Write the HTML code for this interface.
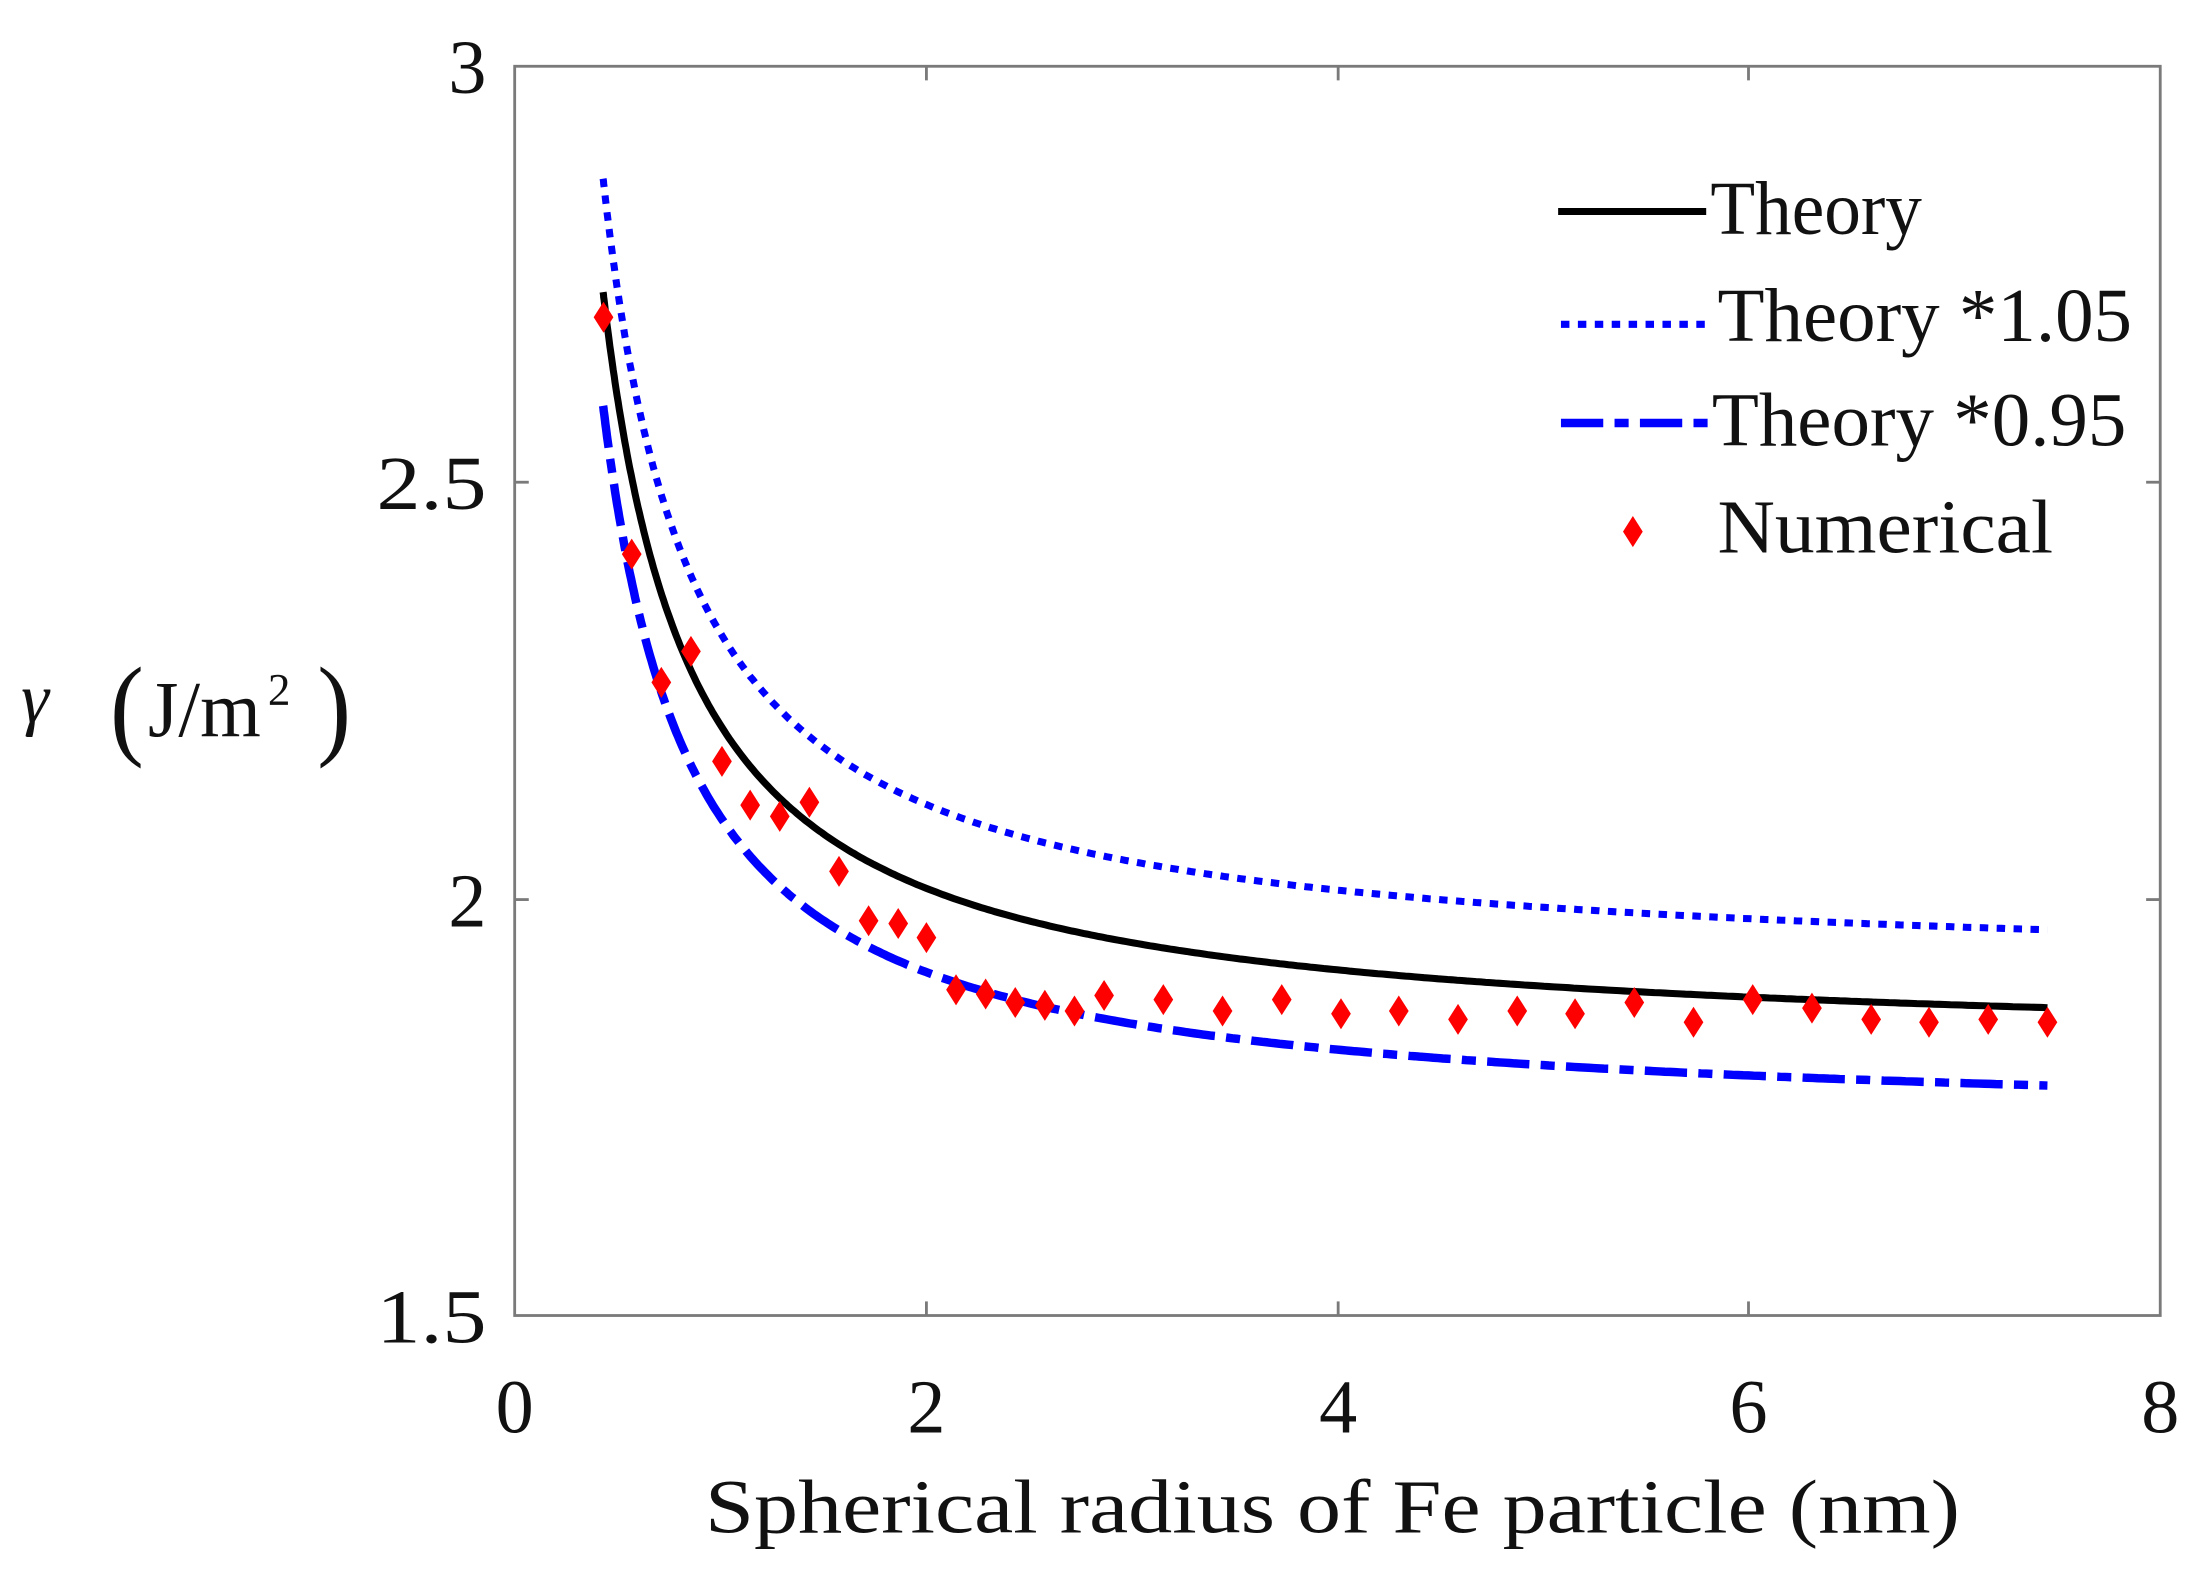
<!DOCTYPE html>
<html><head><meta charset="utf-8"><style>
html,body{margin:0;padding:0;background:#fff;}
svg{display:block;}
text{font-family:"Liberation Serif","Times New Roman",serif;fill:#111;}
</style></head><body>
<svg id="s" width="2211" height="1582" viewBox="0 0 1568 1122" preserveAspectRatio="none" xmlns="http://www.w3.org/2000/svg">
<rect x="365" y="47" width="1167" height="886" fill="#fff" stroke="#7a7a7a" stroke-width="2"/>
<g stroke="#7a7a7a" stroke-width="2">
<line x1="657" y1="933" x2="657" y2="923"/><line x1="949" y1="933" x2="949" y2="923"/><line x1="1240" y1="933" x2="1240" y2="923"/>
<line x1="657" y1="47" x2="657" y2="57"/><line x1="949" y1="47" x2="949" y2="57"/><line x1="1240" y1="47" x2="1240" y2="57"/>
<line x1="365" y1="342" x2="375" y2="342"/><line x1="365" y1="638" x2="375" y2="638"/>
<line x1="1532" y1="342" x2="1522" y2="342"/><line x1="1532" y1="638" x2="1522" y2="638"/>
</g>
<g font-size="54" text-anchor="end">
<text x="345" y="66">3</text><text x="345" y="361" textLength="78" lengthAdjust="spacingAndGlyphs">2.5</text><text x="345" y="657">2</text><text x="345" y="952" textLength="78" lengthAdjust="spacingAndGlyphs">1.5</text>
</g>
<g font-size="54" text-anchor="middle">
<text x="365" y="1016">0</text><text x="657" y="1016">2</text><text x="949" y="1016">4</text><text x="1240" y="1016">6</text><text x="1532" y="1016">8</text>
</g>
<text x="945" y="1087" font-size="54" text-anchor="middle" textLength="890" lengthAdjust="spacingAndGlyphs">Spherical radius of Fe particle (nm)</text>
<text x="15" y="512" font-size="50" font-style="italic">γ</text>
<text x="78" y="528" font-size="80" textLength="24" lengthAdjust="spacingAndGlyphs">(</text>
<text x="105" y="522" font-size="56" textLength="80" lengthAdjust="spacingAndGlyphs">J/m</text>
<text x="190" y="500" font-size="32">2</text>
<text x="225" y="528" font-size="80" textLength="24" lengthAdjust="spacingAndGlyphs">)</text>
<g id="curves" fill="none"></g>
<g id="pts" fill="#f00"></g>
<line x1="1105" y1="150" x2="1210" y2="150" stroke="#000" stroke-width="5"/>
<line x1="1107" y1="230" x2="1210" y2="230" stroke="#00f" stroke-width="5" stroke-dasharray="6 6"/>
<line x1="1107" y1="300" x2="1213" y2="300" stroke="#00f" stroke-width="6" stroke-dasharray="30 8 10 8"/>
<path d="M1158,366 L1165,377 L1158,388 L1151,377 Z" fill="#f00"/>
<g font-size="54">
<text x="1213" y="166" textLength="150" lengthAdjust="spacingAndGlyphs">Theory</text>
<text x="1218" y="242" textLength="294" lengthAdjust="spacingAndGlyphs">Theory *1.05</text>
<text x="1214" y="316" textLength="294" lengthAdjust="spacingAndGlyphs">Theory *0.95</text>
<text x="1218" y="392" textLength="238" lengthAdjust="spacingAndGlyphs">Numerical</text>
</g>
</svg>
<script>
(function(){
var X=function(r){return 365+r*145.9;},Y=function(v){return 933-(v-1.5)*590.7;};
var a=1.817,b=0.392;
function path(k){var d="";for(var i=0;i<=400;i++){var r=0.43+(7.45-0.43)*Math.pow(i/400,1.6);var v=k*(a+b/r);d+=(i?"L":"M")+X(r).toFixed(1)+","+Y(v).toFixed(1);}return d;}
var g=document.getElementById("curves"),ns="http://www.w3.org/2000/svg";
function add(k,col,w,da){var p=document.createElementNS(ns,"path");p.setAttribute("d",path(k));p.setAttribute("stroke",col);p.setAttribute("stroke-width",w);if(da)p.setAttribute("stroke-dasharray",da);g.appendChild(p);}
add(1.05,"#00f",5,"6 6");add(0.95,"#00f",6,"30 8 10 8");add(1,"#000",5,null);
var pts=[[428,225],[448,393],[469,484],[490,462],[512,540],[532,571],[553,579],[574,569],[595,618],[616,653],[637,655],[657,665],[678,702],[699,705],[720,711],[741,713],[762,717],[783,706],[825,709],[867,717],[909,709],[951,719],[992,717],[1034,723],[1076,717],[1117,719],[1159,711],[1201,725],[1243,709],[1285,715],[1327,723],[1368,725],[1410,723],[1452,725]];
var pg=document.getElementById("pts");
pts.forEach(function(p){var e=document.createElementNS(ns,"path");e.setAttribute("d","M"+p[0]+","+(p[1]-11)+" L"+(p[0]+7)+","+p[1]+" L"+p[0]+","+(p[1]+11)+" L"+(p[0]-7)+","+p[1]+" Z");pg.appendChild(e);});
})();
</script>
</body></html>
